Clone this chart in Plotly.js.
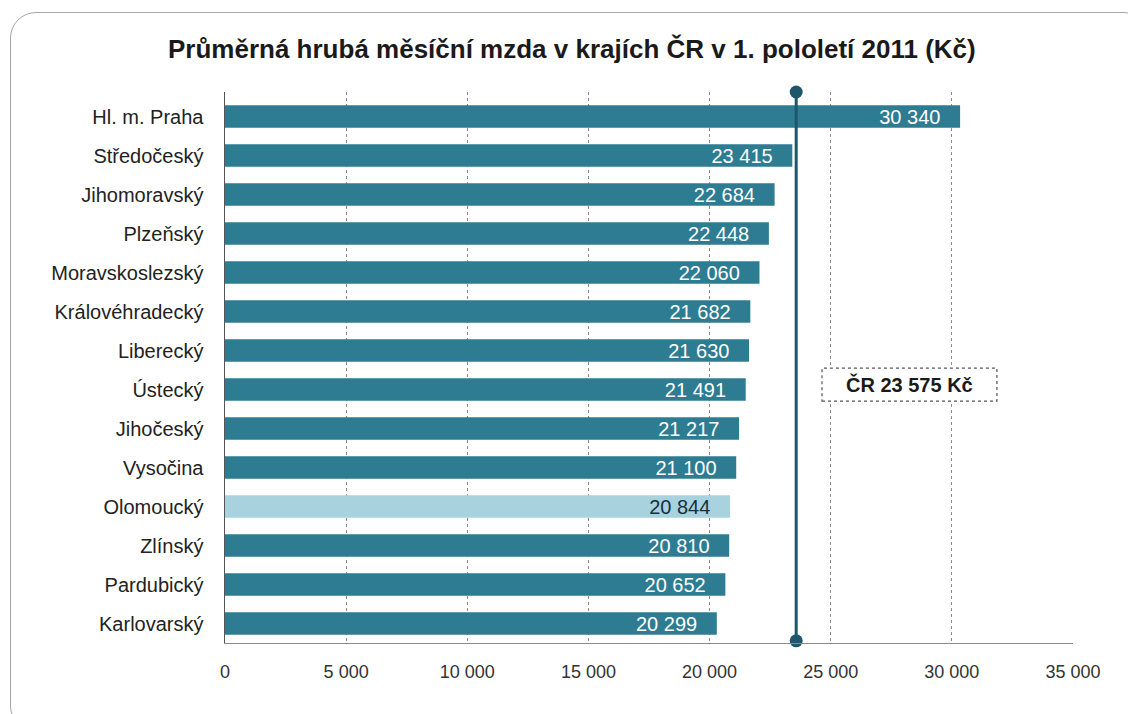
<!DOCTYPE html>
<html>
<head>
<meta charset="utf-8">
<script src="https://cdn.plot.ly/plotly-3.0.1.min.js"></script>
<style>
html,body{margin:0;padding:0;background:#fff;}
#wrap{position:relative;width:1128px;height:714px;overflow:hidden;}
#chart{position:absolute;left:0;top:0;width:1128px;height:714px;}
#frame{position:absolute;left:10px;top:12px;width:1140px;height:720px;border:1.5px solid #a5a5a5;border-radius:26px;pointer-events:none;box-sizing:border-box;}
</style>
</head>
<body>
<div id="wrap"><div id="chart"></div><div id="frame"></div></div>
<script>
const regions = ["Hl. m. Praha","Středočeský","Jihomoravský","Plzeňský","Moravskoslezský","Královéhradecký","Liberecký","Ústecký","Jihočeský","Vysočina","Olomoucký","Zlínský","Pardubický","Karlovarský"];
const wages = [30340,23415,22684,22448,22060,21682,21630,21491,21217,21100,20844,20810,20652,20299];
const highlighted = "Olomoucký";
const average = 23575;
const averageLabel = "ČR 23 575 Kč";
const titleText = "Průměrná hrubá měsíční mzda v krajích ČR v 1. pololetí 2011 (Kč)";

const barColors = regions.map(r => r === highlighted ? "#a9d2df" : "#2d7c92");
const textColors = regions.map(r => r === highlighted ? "#16303c" : "#ffffff");
const FONT = "Liberation Sans, Arial, sans-serif";

const bars = {
  type: "bar", orientation: "h",
  x: wages, y: regions,
  marker: {color: barColors},
  texttemplate: "%{x:,.0f}\u00a0\u00a0\u00a0",
  textposition: "inside", insidetextanchor: "end", constraintext: "none",
  textfont: {color: textColors, size: 20, family: FONT},
  hoverinfo: "x+y", showlegend: false
};
const avgLine = {
  type: "scatter", mode: "lines+markers",
  x: [average, average], y: [0.004, 1], yaxis: "y2",
  line: {color: "#1e566a", width: 3},
  marker: {color: "#1e566a", size: 13},
  cliponaxis: false, showlegend: false, hoverinfo: "x"
};

const layout = {
  width: 1128, height: 714,
  margin: {l: 225, r: 55, t: 92, b: 71},
  paper_bgcolor: "rgba(0,0,0,0)", plot_bgcolor: "rgba(0,0,0,0)",
  separators: ", ",
  font: {family: FONT, color: "#222"},
  title: {text: "<b>" + titleText + "</b>", x: 0.507, xanchor: "center", y: 0.932, yanchor: "middle",
          font: {size: 26, color: "#1a1a1a"}},
  bargap: 0.42,
  xaxis: {range: [0, 35000], dtick: 5000, tickformat: ",d",
          showgrid: true, gridcolor: "#8a8a8a", griddash: "dot", gridwidth: 1,
          zeroline: false, showline: true, linecolor: "#8a8a8a", linewidth: 1,
          ticks: "outside", ticklen: 12, tickcolor: "rgba(0,0,0,0)",
          tickfont: {size: 18, color: "#333"}, fixedrange: true},
  yaxis: {type: "category", range: [13.5, -0.5 - 5/39],
          showline: true, linecolor: "#555", linewidth: 1.5, showgrid: false,
          ticks: "outside", ticklen: 16, tickcolor: "rgba(0,0,0,0)",
          tickfont: {size: 20, color: "#222"}, fixedrange: true},
  yaxis2: {overlaying: "y", range: [0, 1], visible: false, fixedrange: true},
  shapes: [{
    type: "rect", xref: "x", yref: "y2",
    x0: 24640, x1: 31860, y0: 0.439, y1: 0.499,
    fillcolor: "#ffffff", line: {color: "#555", width: 1.2, dash: "dot"}, layer: "above"
  }],
  annotations: [{
    x: 28250, y: 0.469, xref: "x", yref: "y2",
    text: "<b>" + averageLabel + "</b>", showarrow: false,
    font: {size: 20, color: "#1a1a1a"}
  }]
};
Plotly.newPlot("chart", [bars, avgLine], layout, {displayModeBar: false, staticPlot: true});
</script>
</body>
</html>
